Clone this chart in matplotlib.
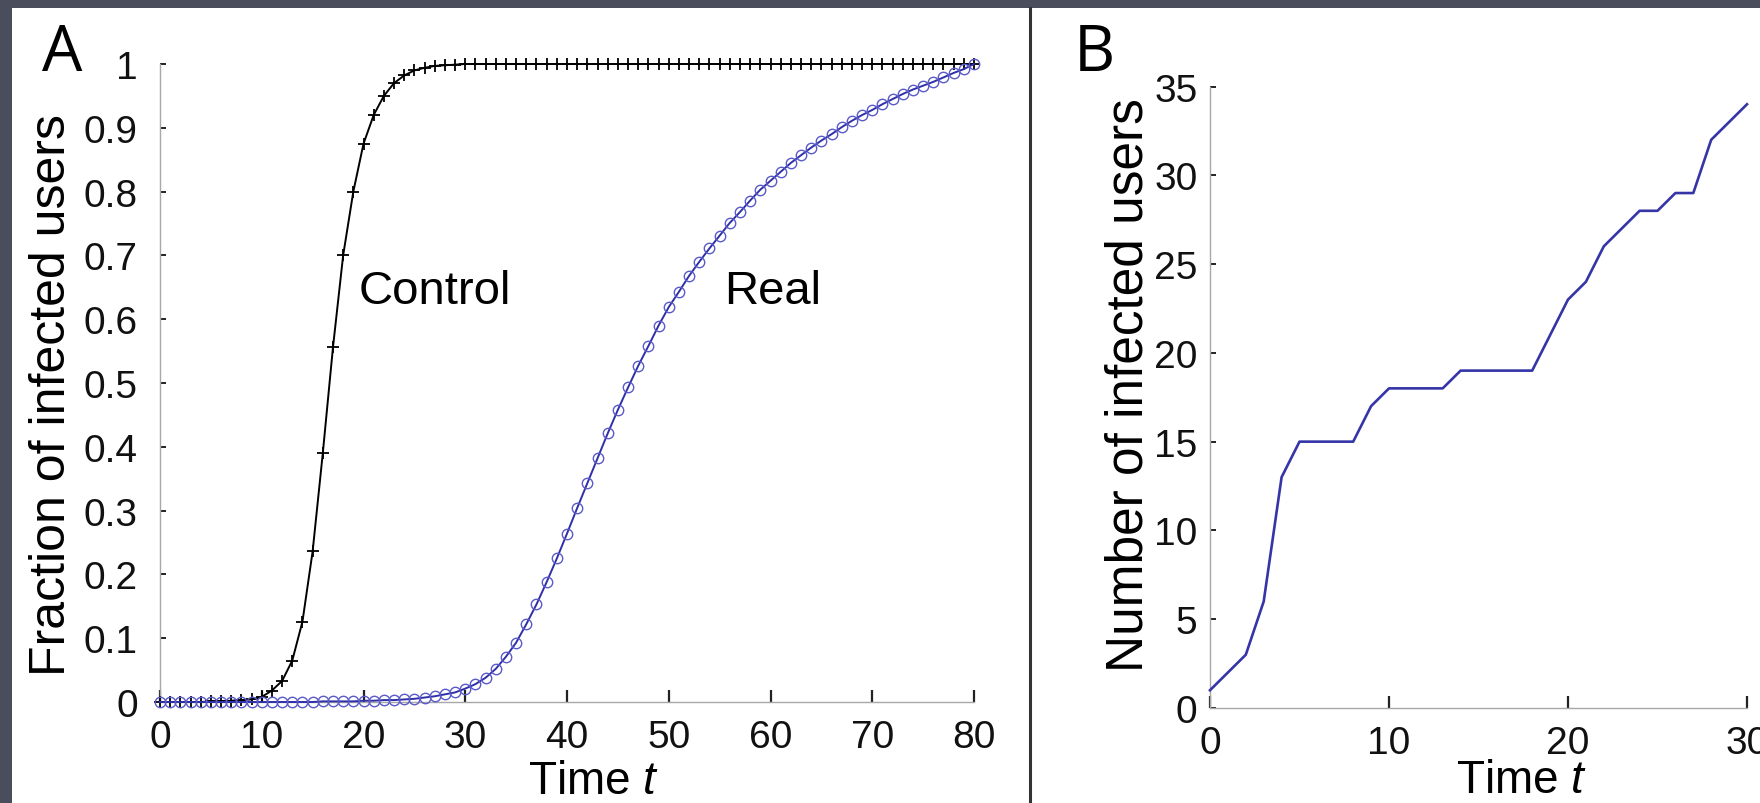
import numpy as np
import matplotlib
matplotlib.use('Agg')
import matplotlib.pyplot as plt
from matplotlib.patches import Rectangle

plt.rcParams['mathtext.fontset'] = 'custom'
plt.rcParams['mathtext.rm'] = 'Liberation Sans'
plt.rcParams['mathtext.it'] = 'Liberation Sans:italic'

# panel A: fraction of infected users, t = 0..80
time_a = list(range(0, 81))
control = [0.000, 0.000, 0.000, 0.000, 0.000, 0.001, 0.001, 0.002, 0.003, 0.004,
           0.008, 0.018, 0.033, 0.065, 0.126, 0.236, 0.390, 0.556, 0.700, 0.800,
           0.875, 0.920, 0.950, 0.970, 0.982, 0.990, 0.994, 0.997, 0.998, 0.999] + [1.0] * 51
real = [0.000, 0.000, 0.000, 0.000, 0.000, 0.000, 0.000, 0.000, 0.000, 0.000,
        0.000, 0.000, 0.000, 0.000, 0.000, 0.000, 0.001, 0.001, 0.001, 0.001,
        0.002, 0.002, 0.003, 0.003, 0.004, 0.005, 0.007, 0.009, 0.012, 0.015,
        0.021, 0.028, 0.038, 0.052, 0.071, 0.093, 0.122, 0.153, 0.188, 0.225,
        0.264, 0.304, 0.343, 0.382, 0.421, 0.458, 0.493, 0.527, 0.558, 0.590,
        0.619, 0.643, 0.668, 0.690, 0.711, 0.731, 0.751, 0.768, 0.786, 0.803,
        0.817, 0.831, 0.845, 0.857, 0.869, 0.880, 0.890, 0.901, 0.911, 0.920,
        0.928, 0.937, 0.945, 0.953, 0.960, 0.966, 0.972, 0.979, 0.986, 0.992,
        1.000]

# panel B: number of infected users, t = 0..30
time_b = list(range(0, 31))
infected = [1, 2, 3, 6, 13, 15, 15, 15, 15, 17, 18, 18, 18, 18, 19, 19, 19, 19, 19,
            21, 23, 24, 26, 27, 28, 28, 29, 29, 32, 33, 34]

xticks_a = [0, 10, 20, 30, 40, 50, 60, 70, 80]
yticks_a = [0, 0.1, 0.2, 0.3, 0.4, 0.5, 0.6, 0.7, 0.8, 0.9, 1]
ytick_labels_a = ['0', '0.1', '0.2', '0.3', '0.4', '0.5', '0.6', '0.7', '0.8', '0.9', '1']
xticks_b = [0, 10, 20, 30]
yticks_b = [0, 5, 10, 15, 20, 25, 30, 35]

label_font = ['Liberation Sans', 'DejaVu Sans']
tick_font = ['Liberation Sans Narrow', 'Liberation Sans', 'DejaVu Sans']
letter_font = ['Open Sans', 'DejaVu Sans']

fig = plt.figure(figsize=(17.6, 8.04), dpi=100)
fig.patch.set_facecolor('#4a4e5c')
fig.add_artist(Rectangle((12 / 1760, 0), 1, 1 - 9 / 804, transform=fig.transFigure,
                         facecolor='white', edgecolor='none', zorder=0))
# divider between panels
fig.add_artist(plt.Line2D([1030 / 1760, 1030 / 1760], [0, 1 - 9 / 804], transform=fig.transFigure,
                          color='#333333', lw=2.2, zorder=1))


def style_axes(ax, ypad):
    ax.set_facecolor('none')
    for s in ['top', 'right']:
        ax.spines[s].set_visible(False)
    for s in ['left', 'bottom']:
        ax.spines[s].set_color('#a8a8a8')
        ax.spines[s].set_linewidth(1.0)
    ax.tick_params(axis='x', direction='in', length=9, width=1.6, color='#222222', pad=12)
    ax.tick_params(axis='y', direction='in', length=4, width=1.4, color='#222222', pad=ypad)
    for lab in ax.get_xticklabels() + ax.get_yticklabels():
        lab.set_family(tick_font)
        lab.set_fontsize(28)
        lab.set_color('#111111')


# ---- panel A ----
ax1 = fig.add_axes([160 / 1760, 1 - 703 / 804, 814 / 1760, 638 / 804])
ax1.plot(time_a, control, color='black', lw=1.4, marker='+', markersize=8.5,
         markeredgewidth=1.3, clip_on=False, zorder=3)
ax1.plot(time_a, real, color='#2f2fa8', lw=1.4, marker='o', markersize=7.5,
         markerfacecolor='none', markeredgecolor='#5a5ac8', markeredgewidth=1.0,
         clip_on=False, zorder=4)
ax1.set_xlim(0, 80)
ax1.set_ylim(0, 1)
ax1.set_xticks(xticks_a)
ax1.set_yticks(yticks_a)
ax1.set_yticklabels(ytick_labels_a)
style_axes(ax1, 16)
ax1.set_ylabel('Fraction of infected users', family=label_font, fontsize=36)
ax1.yaxis.set_label_coords(-0.104, 0.483)
ax1.set_xlabel('Time $\\it{t}$', family=label_font, fontsize=33)
ax1.xaxis.set_label_coords(0.533, -0.09)
ax1.text(19.5, 0.644, 'Control', family=label_font, fontsize=34, va='center', ha='left')
ax1.text(55.4, 0.644, 'Real', family=label_font, fontsize=34, va='center', ha='left')
fig.text(62 / 1760, 1 - 54 / 804, 'A', family=letter_font, fontsize=46, ha='center', va='center')

# ---- panel B ----
ax2 = fig.add_axes([1210 / 1760, 1 - 709 / 804, 537 / 1760, 621.5 / 804])
ax2.plot(time_b, infected, color='#3535a8', lw=1.9, clip_on=False, zorder=3)
ax2.set_xlim(0, 30)
ax2.set_ylim(0, 35)
ax2.set_xticks(xticks_b)
ax2.set_yticks(yticks_b)
style_axes(ax2, 9)
ax2.set_ylabel('Number of infected users', family=label_font, fontsize=37)
ax2.yaxis.set_label_coords(-0.106, 0.521)
ax2.set_xlabel('Time $\\it{t}$', family=label_font, fontsize=33)
ax2.xaxis.set_label_coords(0.58, -0.08)
fig.text(1094 / 1760, 1 - 54 / 804, 'B', family=letter_font, fontsize=46, ha='center', va='center')

fig.savefig('out.png', dpi=100, facecolor=fig.get_facecolor())
